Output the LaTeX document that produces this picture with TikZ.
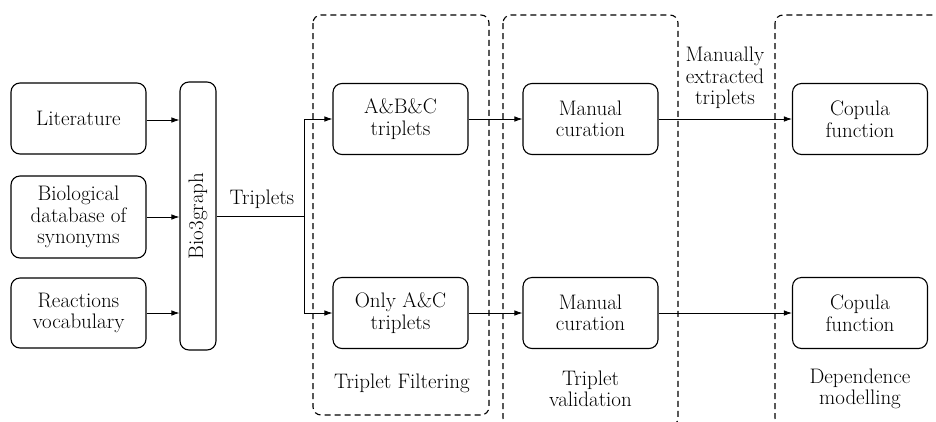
\documentclass[tikz,border=0pt]{standalone}
\usepackage{fontspec}
\usetikzlibrary{arrows.meta}
\begin{document}
\begin{tikzpicture}[x=1pt,y=-1pt,
  txt/.style={font=\rmfamily\fontsize{21}{21.5}\selectfont, align=center, inner sep=0pt},
  box/.style={txt, draw, line width=1.1pt, rounded corners=9pt, minimum width=135pt, minimum height=71pt},
  group/.style={draw, line width=1.1pt, rounded corners=8pt, dash pattern=on 6pt off 4pt},
  arr/.style={line width=0.8pt, -{Latex[length=8pt,width=5.5pt]}},
  conn/.style={line width=0.8pt}]
\useasboundingbox (0,0) rectangle (936,421);
\clip (0,0) rectangle (936,421);
% groups
\draw[group] (313,15) rectangle (489,415);
\draw[group] (503,15) rectangle (678,426);
\draw[group] (775,15) rectangle (952,426);
% sources
\node[box] (lit) at (78.5,118.5) {Literature};
\node[box, minimum height=82pt] (bio) at (78.5,217) {Biological\\database of\\synonyms};
\node[box, minimum height=70pt] (rea) at (78.5,313) {Reactions\\vocabulary};
\node[box, rotate=90, minimum width=268pt, minimum height=36pt] (b3g) at (198,216) {Bio3graph};
% filtering
\node[box] (abc) at (400.5,119) {A\&B\&C\\triplets};
\node[box] (oac) at (400.5,313) {Only A\&C\\triplets};
% validation
\node[box] (mc1) at (590.5,119) {Manual\\curation};
\node[box] (mc2) at (590.5,313) {Manual\\curation};
% modelling
\node[box] (cf1) at (860,119) {Copula\\function};
\node[box] (cf2) at (860,313) {Copula\\function};
% labels
\node[txt] (trl) at (262,199) {Triplets};
\node[txt] (met) at (725,78) {Manually\\extracted\\triplets};
\node[txt] (tf) at (402,383) {Triplet Filtering};
\node[txt] (tv) at (590.5,389) {Triplet\\validation};
\node[txt] (dm) at (860,389) {Dependence\\modelling};
% connectors
\coordinate (sp) at (304,216);
\draw[arr] (lit.east |- 0,120) -- (b3g.north |- 0,120);
\draw[arr] (bio.east) -- (bio.east -| b3g.north);
\draw[arr] (rea.east) -- (rea.east -| b3g.north);
\draw[conn] (b3g.south) -- (b3g.south -| sp);
\draw[arr] (sp) |- (abc.west);
\draw[arr] (sp) |- (oac.west);
\draw[arr] (abc) -- (mc1);
\draw[arr] (oac) -- (mc2);
\draw[arr] (mc1) -- (cf1);
\draw[arr] (mc2) -- (cf2);
\end{tikzpicture}
\end{document}
